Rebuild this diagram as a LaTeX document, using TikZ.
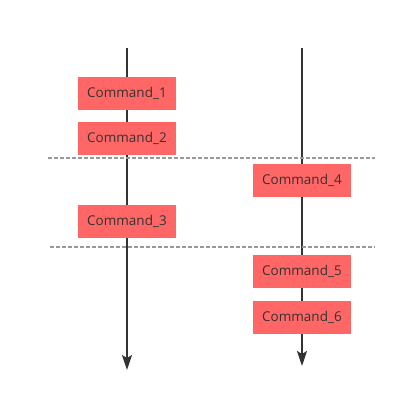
\documentclass[tikz,border=0pt]{standalone}
\usepackage{fontspec}
\setmainfont{Open Sans}
\usetikzlibrary{arrows.meta}
\definecolor{boxred}{HTML}{FF6666}
\definecolor{ink}{HTML}{333333}
\definecolor{dashgray}{HTML}{999999}
\tikzset{
  cmd/.style={fill=boxred, draw=none, minimum width=98pt, minimum height=33pt, inner sep=0pt, text=ink, font=\fontsize{13.5}{15}\selectfont},
  timeline/.style={draw=ink, line width=2pt, -{Stealth[length=15pt,width=10pt,inset=3pt]}},
  sep/.style={draw=dashgray, line width=1.5pt, dash pattern=on 4pt off 2pt}
}
\begin{document}
\begin{tikzpicture}[x=1pt,y=-1pt]
\useasboundingbox (0,0) rectangle (410,400);
\coordinate (lt) at (127,48);
\coordinate (lb) at (127,370);
\coordinate (rt) at (302,48);
\coordinate (rb) at (302,366);
\coordinate (d1a) at (48,158);
\coordinate (d1b) at (375,158);
\coordinate (d2a) at (50,247);
\coordinate (d2b) at (375,247);
\draw[timeline] (lt) -- (lb);
\draw[timeline] (rt) -- (rb);
\draw[sep] (d1a) -- (d1b);
\draw[sep] (d2a) -- (d2b);
\node[cmd] (c1) at (127,93.5) {Command\_1};
\node[cmd] (c2) at (127,138) {Command\_2};
\node[cmd] (c3) at (127,221.5) {Command\_3};
\node[cmd] (c4) at (302,180.5) {Command\_4};
\node[cmd] (c5) at (302,271.5) {Command\_5};
\node[cmd] (c6) at (302,317.5) {Command\_6};
\end{tikzpicture}
\end{document}
